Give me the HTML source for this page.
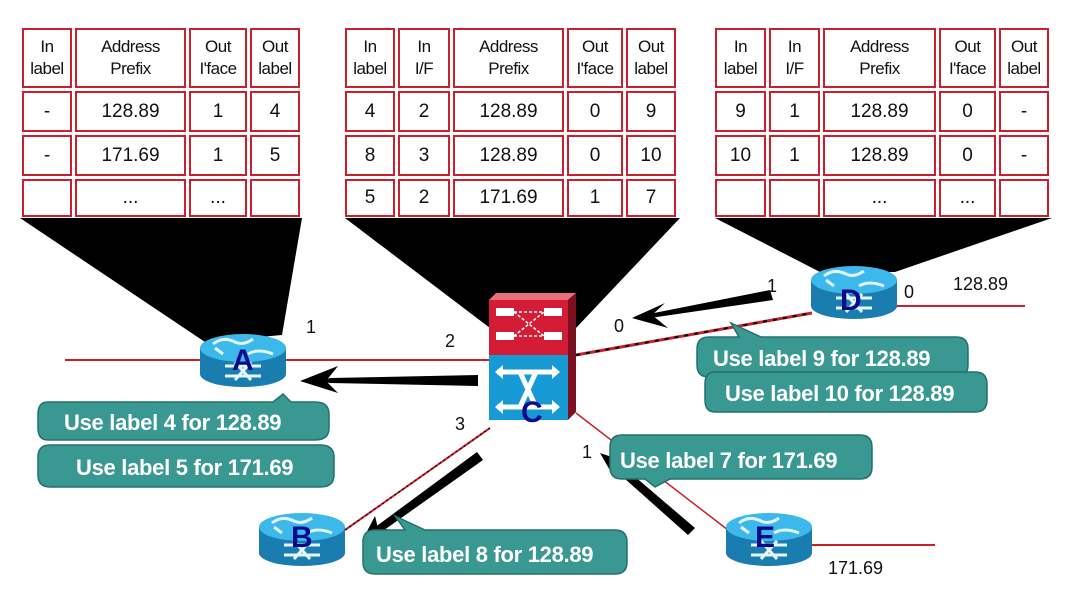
<!DOCTYPE html>
<html><head><meta charset="utf-8"><style>
html,body{margin:0;padding:0;background:#fff}
body{width:1080px;height:602px;position:relative;overflow:hidden;font-family:"Liberation Sans",Arial,sans-serif}
table{position:absolute;border-collapse:separate;border-spacing:3px;}
td{border:2px solid #c8202e;text-align:center;padding:0;color:#111;font-size:19px;background:#fff}
tr.h td{height:56px;font-size:17px;line-height:22px;letter-spacing:-0.5px}
tr.r td{height:37px}
tr.r3 td{height:34px}
</style></head><body>
<svg width="1080" height="602" style="position:absolute;left:0;top:0">
<defs>
<g id="rt">
 <rect x="-43" y="0" width="86" height="26" fill="#1a7db0"/>
 <ellipse cx="0" cy="26" rx="43" ry="13" fill="#1a7db0"/>
 <ellipse cx="0" cy="0" rx="43" ry="14" fill="#3cb8ea"/>
 <path d="M-30 -4 q10 -8 22 -2 q8 4 18 -3 M5 6 q10 -6 25 0 M-20 6 l-8 -6" stroke="#dff4ff" stroke-width="3" fill="none"/>
 <path d="M-18 18 h36 M-18 28 h36 M-8 14 l16 18 M8 14 l-16 18" stroke="#e6f6ff" stroke-width="3" fill="none"/>
</g>
</defs>
<polygon points="20,218 302,218 282,335 205,342" fill="#000"/>
<polygon points="345,218 680,218 576,328 490,328" fill="#000"/>
<polygon points="715,218 1052,218 895,272 820,272" fill="#000"/>
<line x1="65" y1="360" x2="490" y2="360" stroke="#c8202e" stroke-width="2"/>
<line x1="576" y1="355" x2="812" y2="313" stroke="#c8202e" stroke-width="3"/>
<line x1="576" y1="355" x2="812" y2="313" stroke="#000" stroke-width="2" stroke-dasharray="4 6"/>
<line x1="490" y1="428" x2="345" y2="530" stroke="#c8202e" stroke-width="2"/>
<line x1="490" y1="428" x2="345" y2="530" stroke="#000" stroke-width="1" stroke-dasharray="2 3"/>
<line x1="576" y1="413" x2="728" y2="530" stroke="#c8202e" stroke-width="1.5"/>
<line x1="895" y1="306" x2="1025" y2="306" stroke="#c8202e" stroke-width="2"/>
<line x1="810" y1="545" x2="935" y2="545" stroke="#c8202e" stroke-width="2"/>
<g fill="#000">
 <polygon points="478,375 478,386 330,383 320,381 330,378"/>
 <polygon points="300,381 338,366 326,381 338,393"/>
 <polygon points="770,290 773,300 650,318 644,315"/>
 <polygon points="632,318 665,303 652,315 668,328"/>
 <polygon points="477,452 483,460 380,533 374,528"/>
 <polygon points="362,541 375,516 378,528 392,530"/>
 <polygon points="695,528 688,535 615,470 620,464"/>
 <polygon points="600,453 627,462 617,467 615,479"/>
</g>
<use href="#rt" x="243" y="348"/>
<use href="#rt" x="302" y="527"/>
<use href="#rt" x="854" y="280"/>
<use href="#rt" x="769" y="527"/>
<polygon points="489,300 496,293 576,293 568,300" fill="#e8707c"/>
<polygon points="568,300 576,293 576,412 568,420" fill="#7a1020"/>
<rect x="489" y="300" width="79" height="55" fill="#d41c36"/>
<rect x="489" y="355" width="79" height="65" fill="#1799d4"/>
<path d="M496 312 h18 M544 312 h18 M496 336 h18 M544 336 h18" stroke="#fff" stroke-width="8"/>
<path d="M514 312 l30 24 M514 336 l30 -24 M514 312 h30 M514 336 h30" stroke="#fff" stroke-width="1.5" stroke-dasharray="3 2"/>
<path d="M497 372 h60 M497 407 h60 M520 372 l16 35 M536 372 l-16 35" stroke="#fff" stroke-width="5" fill="none"/>
<path d="M495 372 l8 -7 v14 z M560 372 l-8 -7 v14 z M495 407 l8 -7 v14 z M560 407 l-8 -7 v14 z" fill="#fff"/>
<g fill="#3a9893" stroke="#24706b" stroke-width="1.5">
 <path d="M50 445 h270 q14 0 14 12 v18 q0 12 -14 12 h-270 q-12 0 -12 -12 v-18 q0 -12 12 -12z"/>
 <path d="M48 402 h225 l10 -8 l8 8 h24 q14 0 14 12 v14 q0 12 -14 12 h-267 q-10 0 -10 -12 v-14 q0 -12 10 -12z"/>
 <path d="M709 337 h30 l-8 -14 l30 14 h195 q12 0 12 12 v16 q0 12 -12 12 h-247 q-12 0 -12 -12 v-16 q0 -12 12 -12z"/>
 <path d="M715 372 h260 q12 0 12 12 v16 q0 12 -12 12 h-260 q-10 0 -10 -12 v-16 q0 -12 10 -12z"/>
 <path d="M622 435 h238 q12 0 12 12 v20 q0 12 -12 12 h-190 l-15 8 l-10 -8 h-23 q-12 0 -12 -12 v-20 q0 -12 12 -12z"/>
 <path d="M375 530 h30 l-10 -14 l30 14 h190 q12 0 12 12 v20 q0 12 -12 12 h-240 q-12 0 -12 -12 v-20 q0 -12 12 -12z"/>
</g>
<g fill="#fff" font-family="Liberation Sans,Arial,sans-serif" font-weight="bold" font-size="22" style="letter-spacing:-0.3px">
 <text x="64" y="430">Use label 4 for 128.89</text>
 <text x="76" y="475">Use label 5 for 171.69</text>
 <text x="713" y="366">Use label 9 for 128.89</text>
 <text x="725" y="401">Use label 10 for 128.89</text>
 <text x="620" y="468">Use label 7 for 171.69</text>
 <text x="376" y="562">Use label 8 for 128.89</text>
</g>
<g fill="#111" font-family="Liberation Sans,Arial,sans-serif" font-size="18">
 <text x="306" y="333">1</text>
 <text x="445" y="347">2</text>
 <text x="455" y="430">3</text>
 <text x="614" y="332">0</text>
 <text x="767" y="292">1</text>
 <text x="904" y="298">0</text>
 <text x="953" y="290">128.89</text>
 <text x="582" y="458">1</text>
 <text x="828" y="574">171.69</text>
</g>
<g fill="#0a0a8c" font-family="Liberation Sans,Arial,sans-serif" font-weight="bold" font-size="30">
 <text x="232" y="370">A</text>
 <text x="291" y="547">B</text>
 <text x="521" y="422">C</text>
 <text x="840" y="310">D</text>
 <text x="755" y="547">E</text>
</g>
</svg>

<table style="left:19px;top:25px">
<tr class="h"><td style="width:46px">In<br>label</td><td style="width:107px">Address<br>Prefix</td><td style="width:54px">Out<br>I'face</td><td style="width:46px">Out<br>label</td></tr>
<tr class="r"><td>-</td><td>128.89</td><td>1</td><td>4</td></tr>
<tr class="r"><td>-</td><td>171.69</td><td>1</td><td>5</td></tr>
<tr class="r3"><td></td><td>...</td><td>...</td><td></td></tr>
</table>
<table style="left:342px;top:25px">
<tr class="h"><td style="width:46px">In<br>label</td><td style="width:48px">In<br>I/F</td><td style="width:107px">Address<br>Prefix</td><td style="width:52px">Out<br>I'face</td><td style="width:46px">Out<br>label</td></tr>
<tr class="r"><td>4</td><td>2</td><td>128.89</td><td>0</td><td>9</td></tr>
<tr class="r"><td>8</td><td>3</td><td>128.89</td><td>0</td><td>10</td></tr>
<tr class="r3"><td>5</td><td>2</td><td>171.69</td><td>1</td><td>7</td></tr>
</table>
<table style="left:712px;top:25px">
<tr class="h"><td style="width:47px">In<br>label</td><td style="width:47px">In<br>I/F</td><td style="width:109px">Address<br>Prefix</td><td style="width:53px">Out<br>I'face</td><td style="width:46px">Out<br>label</td></tr>
<tr class="r"><td>9</td><td>1</td><td>128.89</td><td>0</td><td>-</td></tr>
<tr class="r"><td>10</td><td>1</td><td>128.89</td><td>0</td><td>-</td></tr>
<tr class="r3"><td></td><td></td><td>...</td><td>...</td><td></td></tr>
</table>
</body></html>
